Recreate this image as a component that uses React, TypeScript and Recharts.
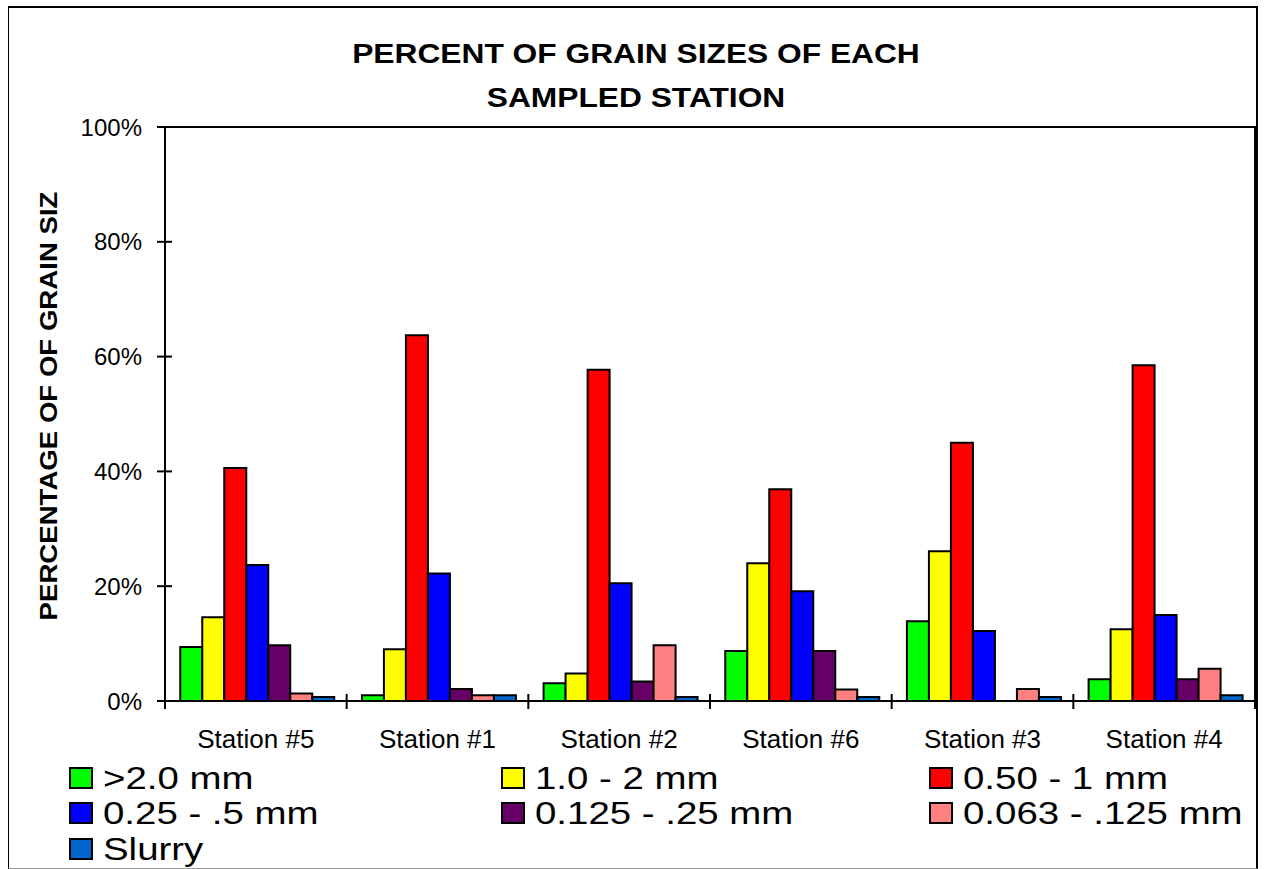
import React from 'react';
import { BarChart, Bar, XAxis, YAxis, ReferenceArea, Legend } from 'recharts';

const stations = ['Station #5', 'Station #1', 'Station #2', 'Station #6', 'Station #3', 'Station #4'];
const gt2mm = [9.4, 1.0, 3.1, 8.7, 13.9, 3.8];
const mm1to2 = [14.6, 9.0, 4.8, 24.0, 26.1, 12.5];
const mm05to1 = [40.6, 63.7, 57.7, 36.9, 45.0, 58.5];
const mm025to05 = [23.7, 22.2, 20.5, 19.1, 12.2, 15.0];
const mm0125to025 = [9.7, 2.1, 3.4, 8.7, 0, 3.8];
const mm0063to0125 = [1.3, 1.0, 9.7, 2.0, 2.1, 5.6];
const slurry = [0.7, 1.0, 0.7, 0.7, 0.7, 1.0];
const yTicks = [0, 20, 40, 60, 80, 100];

const seriesNames = ['>2.0 mm', '1.0 - 2 mm', '0.50 - 1 mm', '0.25 - .5 mm', '0.125 - .25 mm', '0.063 - .125 mm', 'Slurry'];
const seriesColors = ['#00FF00', '#FFFF00', '#FF0000', '#0000FF', '#660066', '#FF8080', '#0066CC'];
const seriesValues = [gt2mm, mm1to2, mm05to1, mm025to05, mm0125to025, mm0063to0125, slurry];

const data = stations.map((s, i) => {
  const row: Record<string, any> = { station: s };
  seriesValues.forEach((vals, k) => {
    row['s' + k] = vals[i];
  });
  return row;
});

const FONT = '"Liberation Sans", Arial, Helvetica, sans-serif';

const YTick = (props: any) => {
  const { x, y, payload } = props;
  return (
    <g>
      <line x1={x - 8} x2={x + 7} y1={y} y2={y} stroke="#000" strokeWidth={2} />
      <text x={x - 23} y={y} dy="0.36em" textAnchor="end" fontSize={24} fontFamily={FONT} fill="#000">
        {payload.value}%
      </text>
    </g>
  );
};

const XTick = (props: any) => {
  const { x, y, payload, index, width, visibleTicksCount } = props;
  const count = visibleTicksCount || stations.length;
  const band = (typeof width === 'number' && width > 0 ? width : 1090) / count;
  return (
    <g>
      <line x1={x - band / 2} x2={x - band / 2} y1={y - 7} y2={y + 8} stroke="#000" strokeWidth={2} />
      {index === count - 1 && (
        <line x1={x + band / 2} x2={x + band / 2} y1={y - 7} y2={y + 8} stroke="#000" strokeWidth={2} />
      )}
      <text x={x} y={y + 47} textAnchor="middle" fontSize={26} fontFamily={FONT} fill="#000">
        {payload.value}
      </text>
    </g>
  );
};

const colX = [69, 501, 929];
const rowY = [777.5, 813, 848.5];

const LegendContent = () => {
  return (
    <div style={{ position: 'relative', width: 1264, height: 869 }}>
      {seriesNames.map((name, i) => {
        const col = i % 3;
        const row = Math.floor(i / 3);
        return (
          <React.Fragment key={name}>
            <div
              style={{
                position: 'absolute',
                left: colX[col],
                top: rowY[row] - 11,
                width: 24,
                height: 22,
                boxSizing: 'border-box',
                border: '2px solid #000',
                background: seriesColors[i],
              }}
            />
            <div
              style={{
                position: 'absolute',
                left: colX[col] + 34,
                top: rowY[row],
                fontFamily: FONT,
                fontSize: 32,
                lineHeight: 1,
                whiteSpace: 'nowrap',
                color: '#000',
                transform: 'translateY(-50%) scaleX(1.2)',
                transformOrigin: 'left center',
              }}
            >
              {name}
            </div>
          </React.Fragment>
        );
      })}
    </div>
  );
};

const titleStyle: React.CSSProperties = {
  position: 'absolute',
  left: 636,
  transform: 'translate(-50%, -50%) scaleX(1.175)',
  fontFamily: FONT,
  fontWeight: 'bold',
  fontSize: 27,
  lineHeight: 1,
  whiteSpace: 'nowrap',
  color: '#000',
};

export default function App() {
  return (
    <div style={{ position: 'fixed', left: 0, top: 0, width: 1264, height: 869, background: '#fff', overflow: 'hidden' }}>
      <div style={{ ...titleStyle, top: 54 }}>PERCENT OF GRAIN SIZES OF EACH</div>
      <div style={{ ...titleStyle, top: 97.5 }}>SAMPLED STATION</div>
      <div
        style={{
          position: 'absolute',
          left: 49,
          top: 406,
          transform: 'translate(-50%, -50%) rotate(-90deg) scaleX(1.2)',
          fontFamily: FONT,
          fontWeight: 'bold',
          fontSize: 23,
          lineHeight: 1,
          whiteSpace: 'nowrap',
          color: '#000',
        }}
      >
        PERCENTAGE OF OF GRAIN SIZ
      </div>
      <div style={{ position: 'absolute', left: 0, top: 0 }}>
        <BarChart
          width={1264}
          height={869}
          data={data}
          margin={{ top: 127, right: 9, left: 85, bottom: 108 }}
          barCategoryGap="8.4%"
          barGap={0}
        >
          <XAxis
            dataKey="station"
            height={60}
            axisLine={{ stroke: '#000', strokeWidth: 2 }}
            tickLine={false}
            tickSize={0}
            tickMargin={0}
            tick={<XTick />}
            interval={0}
          />
          <YAxis
            width={80}
            domain={[0, 100]}
            ticks={yTicks}
            type="number"
            axisLine={{ stroke: '#000', strokeWidth: 2 }}
            tickLine={false}
            tickSize={0}
            tickMargin={0}
            tick={<YTick />}
            interval={0}
          />
          {seriesNames.map((name, k) => (
            <Bar
              key={name}
              dataKey={'s' + k}
              name={name}
              fill={seriesColors[k]}
              stroke="#000"
              strokeWidth={2}
              isAnimationActive={false}
            />
          ))}
          <ReferenceArea y1={0} y2={100} fill="none" stroke="#000" strokeWidth={2} ifOverflow="visible" />
          <Legend
            layout="vertical"
            align="center"
            verticalAlign="middle"
            content={<LegendContent />}
            wrapperStyle={{ left: 0, top: 0, width: 1264, height: 869, pointerEvents: 'none' }}
          />
        </BarChart>
      </div>
      <div
        style={{
          position: 'absolute',
          left: 8,
          top: 6,
          width: 1250,
          height: 863,
          boxSizing: 'border-box',
          borderTop: '2px solid #000',
          borderLeft: '1px solid #000',
          borderRight: '2px solid #000',
          borderBottom: '1px solid #999',
          pointerEvents: 'none',
        }}
      />
    </div>
  );
}
